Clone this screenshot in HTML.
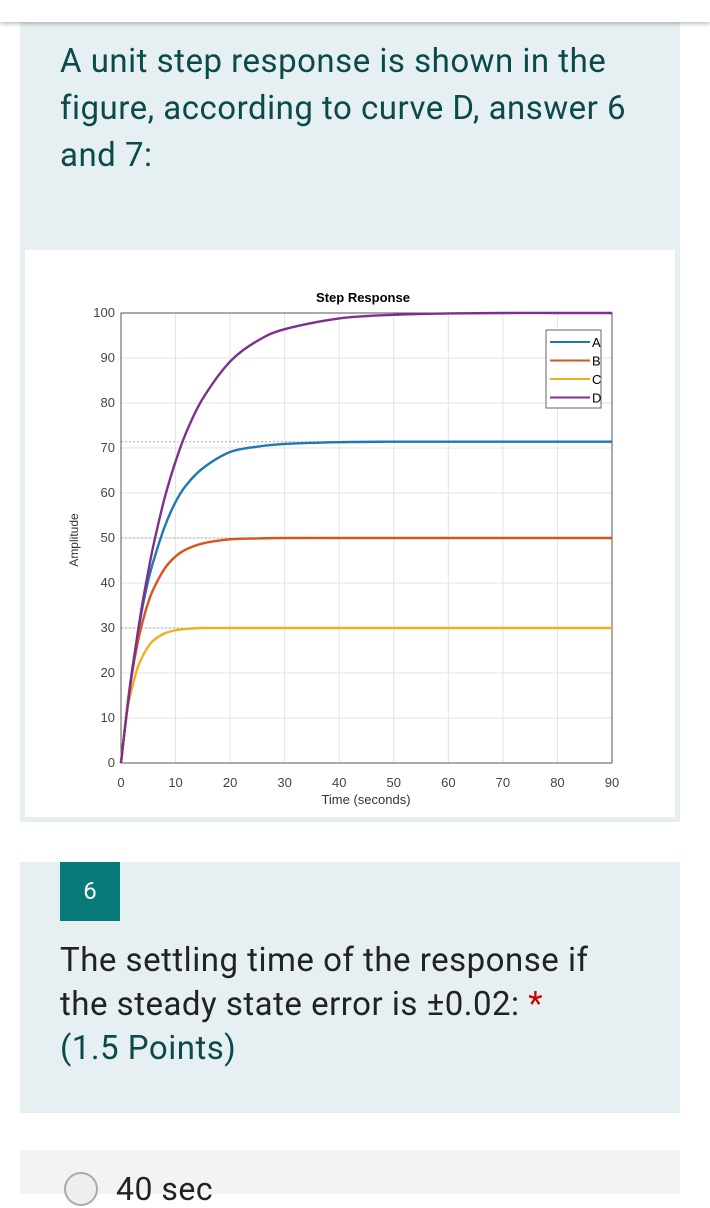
<!DOCTYPE html>
<html><head><meta charset="utf-8"><style>
body{margin:0;width:710px;height:1194px;overflow:hidden;background:#fff;font-family:"Roboto","Liberation Sans",sans-serif;position:relative}
.top{position:absolute;left:0;top:0;width:710px;height:22px;background:#fff;box-shadow:0 2px 4px rgba(0,0,0,.25);z-index:2}
.card{position:absolute;left:20px;width:660px;background:#e6eff1}
.q{position:absolute;left:60px;color:#0b4a4a;font-size:33px;line-height:47px;letter-spacing:0.5px}
</style></head><body>
<div class="top"></div>
<div class="card" style="top:22px;height:800px">
</div>
<div class="q" style="top:38px;width:600px;line-height:47px">A unit step response is shown in the figure, according to curve D, answer 6 and 7:</div>
<svg id="chart" style="position:absolute;left:25px;top:250px" width="650" height="567"></svg>
<div class="card" style="top:862px;height:251px"></div>
<div style="position:absolute;left:60px;top:862px;width:60px;height:59px;background:#087a7a;color:#fff;font-size:24px;text-align:center;line-height:59px">6</div>
<div class="q" style="top:939px;width:580px;line-height:44px;color:#222">The settling time of the response if the steady state error is ±0.02: <span style="color:#c00">*</span><br><span style="color:#0b4a4a">(1.5 Points)</span></div>
<div style="position:absolute;left:20px;top:1150px;width:660px;height:44px;background:#f3f3f3"></div>
<div style="position:absolute;left:64px;top:1172px;width:30px;height:30px;border-radius:50%;border:2px solid #aaa;background:#eee"></div>
<div style="position:absolute;left:116px;top:1170px;font-size:32px;color:#222;letter-spacing:0.5px">40 sec</div>
<script>
const times=[0,1,2,3,4,5,6,8,10,12,15,20,25,30,40,50,60,70,80,90];
const seriesA=[0,11,20.4,28,35,40.6,45.1,52.5,58,61.8,65.5,69.1,70.3,70.9,71.3,71.4,71.4,71.4,71.4,71.4];
const seriesB=[0,11,19.7,26.4,31.6,35.7,38.8,43.2,45.9,47.5,48.8,49.7,49.9,50,50,50,50,50,50,50];
const seriesC=[0,10.9,16.5,21,23.8,25.9,27.3,28.8,29.5,29.8,30,30,30,30,30,30,30,30,30,30];
const seriesD=[0,10.5,20,28.4,36,42.6,48.7,58.9,67,73.6,81,89.2,93.8,96.4,98.8,99.6,99.9,100,100,100];
const xTicks=[0,10,20,30,40,50,60,70,80,90];
const yTicks=[0,10,20,30,40,50,60,70,80,90,100];
const names=["A","B","C","D"];
const colors=["#1f77b4","#d9541a","#edb120","#7e2f8e"];
const NS="http://www.w3.org/2000/svg";
const svg=document.getElementById('chart');
const L=96,R=587,T=63,B=513;
const xs=v=>L+(v/90)*(R-L), ys=v=>B-(v/100)*(B-T);
function el(t,a,p){const e=document.createElementNS(NS,t);for(const k in a)e.setAttribute(k,a[k]);(p||svg).appendChild(e);return e;}
function smooth(pts){let d='M'+pts[0][0]+','+pts[0][1];
for(let i=0;i<pts.length-1;i++){const p0=pts[Math.max(0,i-1)],p1=pts[i],p2=pts[i+1],p3=pts[Math.min(pts.length-1,i+2)];
const c1x=p1[0]+(p2[0]-p0[0])/6,c1y=p1[1]+(p2[1]-p0[1])/6,c2x=p2[0]-(p3[0]-p1[0])/6,c2y=p2[1]-(p3[1]-p1[1])/6;
d+=' C'+c1x+','+c1y+' '+c2x+','+c2y+' '+p2[0]+','+p2[1];}return d;}
el('rect',{x:0,y:0,width:650,height:567,fill:'#fff'});
xTicks.forEach(v=>{const g=el('line',{x1:xs(v),x2:xs(v),y1:T,y2:B,stroke:'#e3e3e3'});

const t=el('text',{x:xs(v),y:B+24,'text-anchor':'middle','font-size':13,fill:'#444','font-family':'Liberation Sans'});t.textContent=v;
});
yTicks.forEach(v=>{const g=el('line',{x1:L,x2:R,y1:ys(v),y2:ys(v),stroke:'#e3e3e3'});

const t=el('text',{x:L-6,y:ys(v)+4,'text-anchor':'end','font-size':13,fill:'#444','font-family':'Liberation Sans'});t.textContent=v;
});
[seriesA[seriesA.length-1],seriesB[19],seriesC[19],100].forEach(v=>{const d=el('line',{x1:L,x2:R,y1:ys(v),y2:ys(v),stroke:'#aaa','stroke-dasharray':'2,2'});
});
const box=el('rect',{x:L,y:T,width:R-L,height:B-T,fill:'none',stroke:'#555'});

[seriesA,seriesB,seriesC,seriesD].forEach((s,i)=>{
const p=el('path',{d:smooth(times.map((t,j)=>[xs(t),ys(s[j])])),fill:'none',stroke:colors[i],'stroke-width':2.4,'stroke-linejoin':'round'});
});
const lg=el('rect',{x:521,y:80,width:55,height:78,fill:'#fff',stroke:'#666'});

names.forEach((n,i)=>{const y=92+i*18.5;
const ln=el('line',{x1:525,x2:565,y1:y,y2:y,stroke:colors[i],'stroke-width':2});

const t=el('text',{x:567,y:y+5,'font-size':13,fill:'#000','font-family':'Liberation Sans'});t.textContent=n;
});
const ti=el('text',{x:338,y:52,'text-anchor':'middle','font-size':13,'font-weight':'bold','font-family':'Liberation Sans'});ti.textContent='Step Response';

const xt=el('text',{x:341,y:554,'text-anchor':'middle','font-size':13,fill:'#333','font-family':'Liberation Sans'});xt.textContent='Time (seconds)';

const yt=el('text',{x:0,y:0,'text-anchor':'middle','font-size':12,fill:'#333','font-family':'Liberation Sans',transform:'translate(53,290) rotate(-90)'});yt.textContent='Amplitude';

</script>
</body></html>
